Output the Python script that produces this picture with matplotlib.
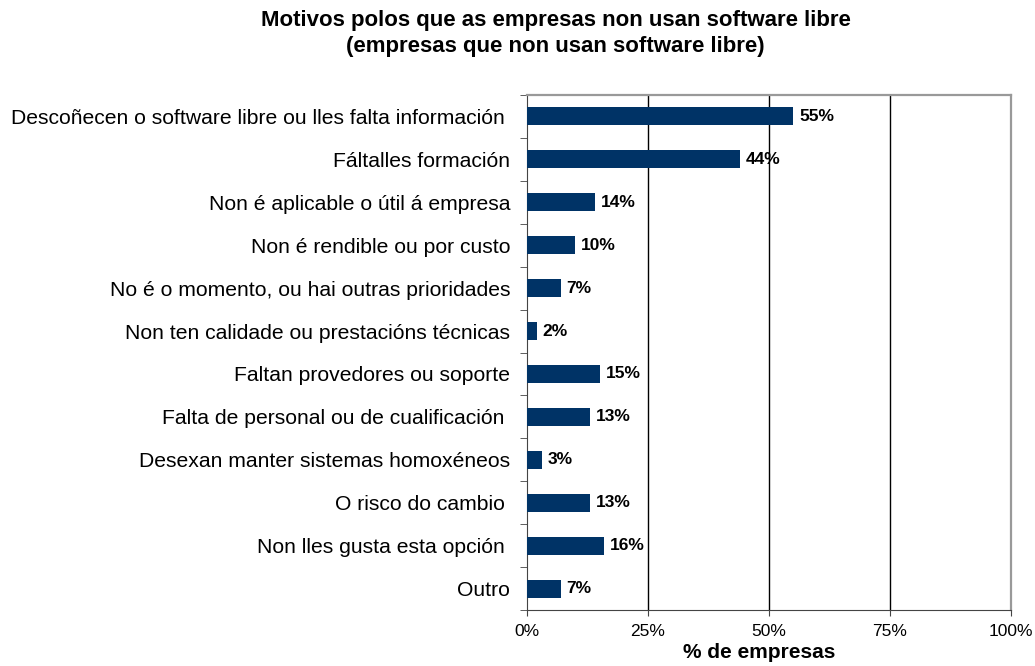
import matplotlib.pyplot as plt
import numpy as np

plt.rcParams['font.family'] = ['Liberation Sans', 'DejaVu Sans']

# Data
categories = ['Descoñecen o software libre ou lles falta información ',
              'Fáltalles formación',
              'Non é aplicable o útil á empresa',
              'Non é rendible ou por custo',
              'No é o momento, ou hai outras prioridades',
              'Non ten calidade ou prestacións técnicas',
              'Faltan provedores ou soporte',
              'Falta de personal ou de cualificación ',
              'Desexan manter sistemas homoxéneos',
              'O risco do cambio ',
              'Non lles gusta esta opción ',
              'Outro']
values = [55, 44, 14, 10, 7, 2, 15, 13, 3, 13, 16, 7]
xticks = [0, 25, 50, 75, 100]

fig = plt.figure(figsize=(10.35, 6.66), dpi=100)
ax = fig.add_axes([527 / 1035, 1 - 610 / 666, 484 / 1035, 515 / 666])

y = np.arange(len(categories))
ax.barh(y, values, height=0.42, color='#003366', zorder=3)
for yi, v in zip(y, values):
    ax.text(v + 1.2, yi, f'{v}%', va='center', ha='left',
            fontsize=12.5, fontweight='bold', zorder=4)

ax.set_xlim(0, 100)
ax.set_ylim(len(categories) - 0.5, -0.5)
ax.set_xticks(xticks)
ax.set_xticklabels([f'{t}%' for t in xticks], fontsize=12.5)
ax.set_yticks(y)
ax.set_yticklabels(categories, fontsize=15.2)
ax.tick_params(axis='y', length=0, pad=12)
ax.set_yticks(np.arange(len(categories) + 1) - 0.5, minor=True)
ax.tick_params(axis='y', which='minor', length=5, direction='out', color='#444444')
ax.tick_params(axis='x', length=4, direction='out', color='#444444', pad=6)

for t in xticks[1:-1]:
    ax.axvline(t, color='black', linewidth=1, zorder=1)

ax.spines['left'].set_color('#444444')
ax.spines['bottom'].set_color('#444444')
ax.spines['top'].set_color('#999999')
ax.spines['right'].set_color('#999999')
ax.spines['top'].set_linewidth(1.6)
ax.spines['right'].set_linewidth(1.6)

ax.set_xlabel('% de empresas', fontsize=15, fontweight='bold', labelpad=3, x=0.479)
fig.text(0.537, 0.95, 'Motivos polos que as empresas non usan software libre\n'
         '(empresas que non usan software libre)',
         ha='center', va='center', fontsize=16, fontweight='bold', linespacing=1.3)

plt.savefig('out.png', dpi=100)
